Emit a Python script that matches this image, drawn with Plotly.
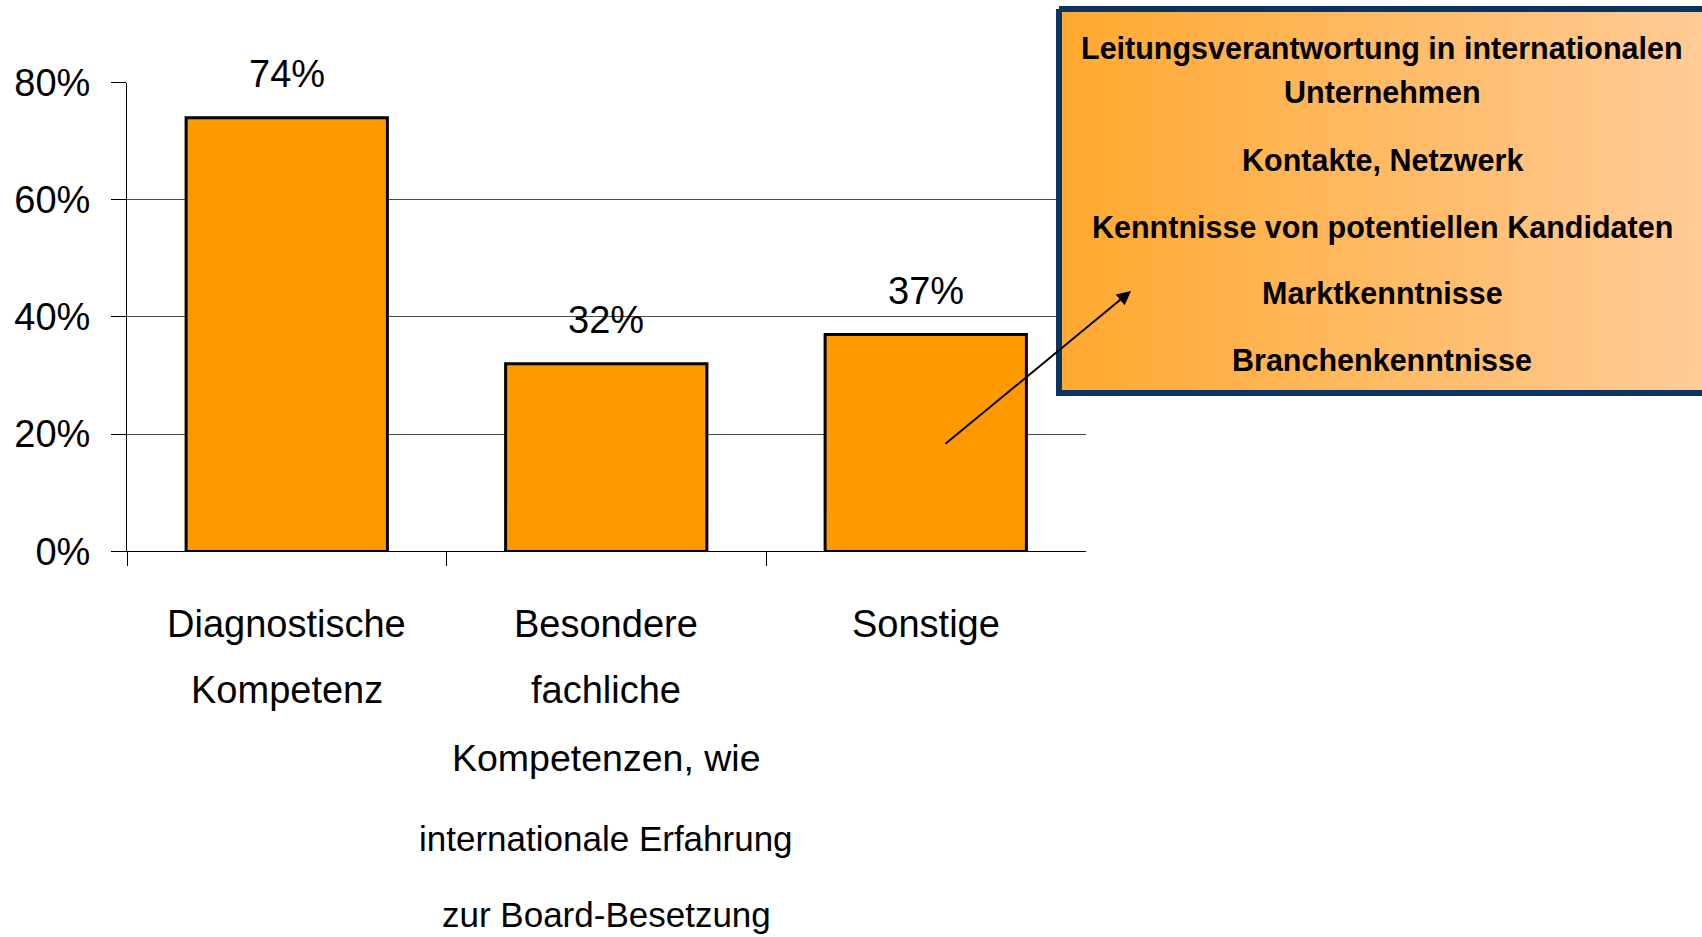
import plotly.graph_objects as go

# ---- data ----
categories = ["Diagnostische Kompetenz",
              "Besondere fachliche Kompetenzen, wie internationale Erfahrung zur Board-Besetzung",
              "Sonstige"]
values = [74, 32, 37]
value_labels = ["74%", "32%", "37%"]
category_lines = [["Diagnostische", "Kompetenz"],
                  ["Besondere", "fachliche", "Kompetenzen, wie",
                   "internationale Erfahrung", "zur Board-Besetzung"],
                  ["Sonstige"]]
y_ticks = [0, 20, 40, 60, 80]
y_ticktext = ["0%", "20%", "40%", "60%", "80%"]
box_lines = ["Leitungsverantwortung in internationalen", "Unternehmen",
             "Kontakte, Netzwerk", "Kenntnisse von potentiellen Kandidaten",
             "Marktkenntnisse", "Branchenkenntnisse"]

W, H = 1702, 937
FONT = "Liberation Sans, Arial, sans-serif"

fig = go.Figure()
fig.add_trace(go.Bar(
    x=categories, y=values, width=0.63,
    marker=dict(color="#FF9900", line=dict(color="black", width=3)),
    xaxis="x", yaxis="y", showlegend=False, hoverinfo="skip"))

# callout box on pixel overlay axes
bx0, bx1, by0, by1 = 1059, 1712, 9, 393
fig.add_trace(go.Scatter(
    x=[bx0, bx1, bx1, bx0, bx0], y=[by0, by0, by1, by1, by0],
    mode="lines", fill="toself",
    line=dict(color="#0B3463", width=6),
    fillgradient=dict(type="horizontal",
                      colorscale=[[0, "#FFA92F"], [1, "#FFCC99"]]),
    xaxis="x2", yaxis="y2", showlegend=False, hoverinfo="skip"))

annotations = []
for cat, v, lab in zip(categories, values, value_labels):
    annotations.append(dict(x=cat, y=v, xref="x", yref="y", text=lab,
                            showarrow=False, yshift=44, yanchor="middle",
                            font=dict(family=FONT, size=38, color="black")))
line_y = [624, 690, 758, 838, 914]
line_size = [38, 38, 37.5, 35, 35]
for cat, lines in zip(categories, category_lines):
    for i, t in enumerate(lines):
        annotations.append(dict(x=cat, y=line_y[i], xref="x", yref="y2", text=t,
                                showarrow=False, yanchor="middle",
                                font=dict(family=FONT, size=line_size[i], color="black")))
box_y = [48, 92, 160, 227, 293, 360]
for t, yy in zip(box_lines, box_y):
    annotations.append(dict(x=1382, y=yy, xref="x2", yref="y2", text="<b>" + t + "</b>",
                            showarrow=False, yanchor="middle",
                            font=dict(family=FONT, size=30.5, color="black")))
annotations.append(dict(x=1131, y=291, xref="x2", yref="y2",
                        ax=944, ay=445, axref="x2", ayref="y2",
                        showarrow=True, arrowhead=2, arrowsize=1.4,
                        arrowwidth=2, arrowcolor="black", text=""))

fig.update_layout(
    width=W, height=H, margin=dict(l=0, r=0, t=0, b=0, autoexpand=False),
    paper_bgcolor="white", plot_bgcolor="rgba(0,0,0,0)",
    xaxis=dict(domain=[127 / W, 1085.5 / W], anchor="y", automargin=False,
               showline=True, linecolor="black", linewidth=1,
               ticks="outside", ticklen=14, tickcolor="black",
               tickson="boundaries", showticklabels=False,
               showgrid=False, zeroline=False),
    yaxis=dict(domain=[1 - 551.4 / H, 1 - 82.5 / H], anchor="x", automargin=False,
               range=[0, 80], tickvals=y_ticks, ticktext=y_ticktext,
               showline=True, linecolor="black", linewidth=1,
               ticks="outside", ticklen=15, tickcolor="black",
               ticklabelstandoff=13,
               tickfont=dict(family=FONT, size=38, color="black"),
               showgrid=True, gridcolor="#4a4a4a", gridwidth=1, zeroline=False),
    xaxis2=dict(domain=[0, 1], anchor="y2", range=[0, W], visible=False, automargin=False),
    yaxis2=dict(domain=[0, 1], anchor="x2", range=[H, 0], visible=False, automargin=False),
    annotations=annotations,
    bargap=0.37,
    modebar=dict(bgcolor="rgba(0,0,0,0)", color="rgba(0,0,0,0)",
                 activecolor="rgba(0,0,0,0)"),
)

fig.write_html("out.html",
               config={"displayModeBar": False},
               post_script="document.body.style.margin='0';"
                           "document.body.style.overflow='hidden';")
